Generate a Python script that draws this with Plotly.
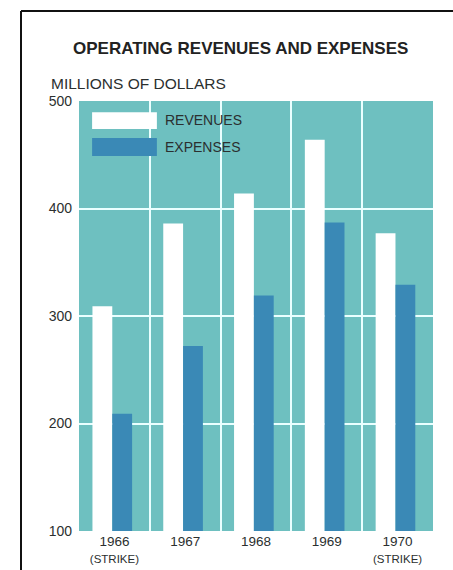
import plotly.graph_objects as go

years = ["1966", "1967", "1968", "1969", "1970"]
year_labels = ["1966<br><span style='font-size:11.5px'>(STRIKE)</span>", "1967", "1968", "1969",
               "1970<br><span style='font-size:11.5px'>(STRIKE)</span>"]
revenues = [309, 386, 414, 464, 377]
expenses = [209, 272, 319, 387, 329]
y_ticks = [100, 200, 300, 400, 500]

TEAL = "#6ec0c0"
BLUE = "#3a89b6"
WHITE = "#ffffff"
TXT = "#2b2f2f"
FONT = "Liberation Sans, Arial, sans-serif"

fig = go.Figure()
fig.add_trace(go.Bar(x=years, y=revenues, name="REVENUES", marker_color=WHITE,
                     marker_line_width=0, width=0.28, offset=-0.31))
fig.add_trace(go.Bar(x=years, y=expenses, name="EXPENSES", marker_color=BLUE,
                     marker_line_width=0, width=0.28, offset=-0.03))

fig.update_layout(
    width=453, height=570,
    margin=dict(l=79, r=20, t=101, b=39),
    paper_bgcolor="white", plot_bgcolor=TEAL,
    barmode="overlay", showlegend=False,
    font=dict(family=FONT, color=TXT),
    xaxis=dict(type="category", tickson="boundaries", showgrid=True, gridcolor="#eaffff",
               gridwidth=2, ticks="", tickvals=years, ticktext=year_labels,
               tickfont=dict(size=13.5, color=TXT), showline=False, zeroline=False,
               range=[-0.5, 4.5], ticklabelstandoff=0, automargin=False),
    yaxis=dict(range=[100, 500], tickvals=y_ticks, showgrid=True, gridcolor="#eaffff",
               gridwidth=2, ticks="", tickfont=dict(size=14, color=TXT), zeroline=False,
               showline=False, ticklabelstandoff=6, automargin=False),
)

# legend swatches
fig.add_shape(type="rect", xref="paper", yref="paper", x0=0.037, x1=0.220, y0=0.935, y1=0.974,
              fillcolor=WHITE, line_width=0)
fig.add_shape(type="rect", xref="paper", yref="paper", x0=0.037, x1=0.220, y0=0.872, y1=0.914,
              fillcolor=BLUE, line_width=0)
fig.add_annotation(xref="paper", yref="paper", x=0.237, y=0.955, text="REVENUES", showarrow=False,
                   xanchor="left", yanchor="middle", font=dict(size=14, color=TXT))
fig.add_annotation(xref="paper", yref="paper", x=0.237, y=0.892, text="EXPENSES", showarrow=False,
                   xanchor="left", yanchor="middle", font=dict(size=14, color=TXT))

# title and axis caption
fig.add_annotation(xref="paper", yref="paper", x=(240.5 - 79) / 354, y=(531 - 48) / 430,
                   text="<b>OPERATING REVENUES AND EXPENSES</b>", showarrow=False,
                   xanchor="center", yanchor="middle", font=dict(size=17, color="#222"))
fig.add_annotation(xref="paper", yref="paper", x=(49 - 79) / 354, y=(531 - 83) / 430,
                   text="MILLIONS OF DOLLARS", showarrow=False,
                   xanchor="left", yanchor="middle", font=dict(size=15.5, color=TXT))

# frame (left and top edges)
fx = (21 - 79) / 354
fy = (531 - 11) / 430
fig.add_shape(type="line", xref="paper", yref="paper", x0=fx, x1=fx, y0=fy, y1=-0.2,
              line=dict(color="#111", width=2))
fig.add_shape(type="line", xref="paper", yref="paper", x0=fx, x1=1.2, y0=fy, y1=fy,
              line=dict(color="#111", width=2))

fig.write_html("out.html")
